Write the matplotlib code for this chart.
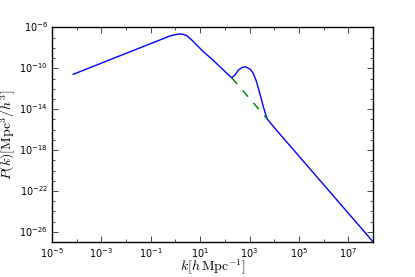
import numpy as np
import matplotlib
matplotlib.use('Agg')
import matplotlib.pyplot as plt
from matplotlib.ticker import FixedLocator, LogFormatterSciNotation, NullFormatter

# log10 k and log10 P(k)
log_k = [-4.14, -1.0, -0.63, -0.22, 0.05, 0.25, 0.46, 0.66, 1.13, 1.5, 1.80,
         2.08, 2.28, 2.41, 2.55, 2.68, 2.82, 3.02, 3.15, 3.26, 3.36, 3.45,
         3.56, 3.66, 3.72, 3.83, 4.03, 8.01]
log_p = [-10.59, -7.58, -7.23, -6.83, -6.68, -6.64, -6.80, -7.23, -8.37, -9.15, -9.84,
         -10.49, -10.92, -10.66, -10.17, -9.95, -9.84, -10.07, -10.49, -11.15, -11.96, -12.78,
         -13.76, -14.58, -14.97, -15.3, -15.88, -27.0]

# no-wiggle (dashed) segment
log_k_nw = [2.28, 3.72]
log_p_nw = [-10.92, -14.97]

k = 10.0 ** np.array(log_k)
pk = 10.0 ** np.array(log_p)
k_nw = 10.0 ** np.array(log_k_nw)
pk_nw = 10.0 ** np.array(log_p_nw)

plt.style.use('classic')
plt.rcParams['mathtext.fontset'] = 'cm'

fig = plt.figure(figsize=(4.15, 2.77), dpi=100, facecolor='white')
ax = fig.add_axes([0.125, 0.126, 0.774, 0.775])

ax.loglog(k, pk, 'b-', lw=1.0)
ax.loglog(k_nw, pk_nw, 'g--', lw=1.0)

ax.set_xlim(1e-5, 1e8)
ax.set_ylim(1e-27, 1e-6)

ax.xaxis.set_major_locator(FixedLocator(10.0 ** np.arange(-5, 9, 2)))
ax.xaxis.set_minor_locator(FixedLocator(10.0 ** np.arange(-4, 9, 2)))
ax.yaxis.set_major_locator(FixedLocator(10.0 ** np.arange(-26, -5, 4)))
ax.yaxis.set_minor_locator(FixedLocator(10.0 ** np.arange(-27, -5, 1)))
ax.xaxis.set_major_formatter(LogFormatterSciNotation())
ax.yaxis.set_major_formatter(LogFormatterSciNotation())
ax.xaxis.set_minor_formatter(NullFormatter())
ax.yaxis.set_minor_formatter(NullFormatter())

ax.tick_params(which='both', direction='in', top=True, right=True, labelsize=7, pad=3)
ax.tick_params(which='major', length=4)
ax.tick_params(which='minor', length=2)

ax.set_xlabel(r'$k[h\,{\rm Mpc}^{-1}]$', fontsize=10)
ax.set_ylabel(r'$P(k)[{\rm Mpc}^3/h^3]$', fontsize=10)
ax.xaxis.set_label_coords(0.5, -0.074)
ax.yaxis.set_label_coords(-0.105, 0.5)

fig.savefig('out.png', dpi=100, facecolor='white')
